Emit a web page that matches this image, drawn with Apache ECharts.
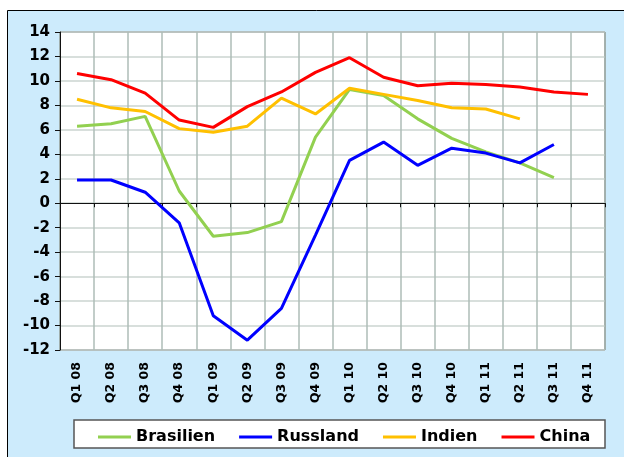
<!DOCTYPE html>
<html>
<head>
<meta charset="utf-8">
<script src="https://cdn.jsdelivr.net/npm/echarts@6/dist/echarts.min.js"></script>
<style>
  html, body { margin: 0; padding: 0; background: #fff; }
  #main { width: 624px; height: 457px; }
</style>
</head>
<body>
<div id="main"></div>
<script>
var quarters = ['Q1 08', 'Q2 08', 'Q3 08', 'Q4 08', 'Q1 09', 'Q2 09', 'Q3 09', 'Q4 09',
  'Q1 10', 'Q2 10', 'Q3 10', 'Q4 10', 'Q1 11', 'Q2 11', 'Q3 11', 'Q4 11'];

var brasilien = [6.3, 6.5, 7.1, 1.0, -2.7, -2.4, -1.5, 5.4, 9.3, 8.8, 6.9, 5.3, 4.2, 3.3, 2.1, null];
var russland = [1.9, 1.9, 0.9, -1.6, -9.2, -11.2, -8.6, -2.6, 3.5, 5.0, 3.1, 4.5, 4.1, 3.3, 4.8, null];
var indien = [8.5, 7.8, 7.5, 6.1, 5.8, 6.3, 8.6, 7.3, 9.4, 8.9, 8.4, 7.8, 7.7, 6.9, null, null];
var china = [10.6, 10.1, 9.0, 6.8, 6.2, 7.9, 9.1, 10.7, 11.9, 10.3, 9.6, 9.8, 9.7, 9.5, 9.1, 8.9];

var yMin = -12, yMax = 14, yStep = 2;

var chart = echarts.init(document.getElementById('main'));

function line(name, data, color) {
  return {
    name: name,
    type: 'line',
    data: data,
    xAxisIndex: 0,
    symbol: 'none',
    lineStyle: { width: 3, color: color },
    itemStyle: { color: color }
  };
}

var option = {
  backgroundColor: '#fff',
  animation: false,
  graphic: [
    {
      type: 'rect', z: -10, silent: true,
      shape: { x: 7.5, y: 10.5, width: 700, height: 500 },
      style: { fill: '#CDEBFC', stroke: '#000', lineWidth: 1 }
    },
    {
      type: 'rect', z: -5, silent: true,
      shape: { x: 74, y: 420, width: 531, height: 28 },
      style: { fill: '#fff', stroke: '#555', lineWidth: 1.5 }
    }
  ],
  grid: {
    left: 60, top: 32, right: 19, bottom: 107,
    show: true, backgroundColor: '#fff', borderColor: '#222', borderWidth: 1
  },
  legend: {
    left: 93, top: 424,
    icon: 'rect', itemWidth: 33, itemHeight: 3, itemGap: 24,
    textStyle: { fontFamily: 'DejaVu Sans', fontWeight: 'bold', fontSize: 16, color: '#000' },
    data: ['Brasilien', 'Russland', 'Indien', 'China']
  },
  xAxis: [
    {
      type: 'category', data: quarters, boundaryGap: true,
      axisLine: { onZero: true, lineStyle: { color: '#111', width: 1 } },
      axisTick: { show: true, length: 4, interval: 0, lineStyle: { color: '#111' } },
      axisLabel: { show: false, interval: 0 },
      splitLine: { show: true, interval: 0, lineStyle: { color: '#AEBDB7', width: 1.5 } }
    },
    {
      type: 'category', data: quarters, position: 'bottom', boundaryGap: true,
      axisLine: { show: false }, axisTick: { show: false },
      axisLabel: {
        rotate: 90, margin: 12, interval: 0,
        fontFamily: 'DejaVu Sans', fontWeight: 'bold', fontSize: 12.5, color: '#000'
      },
      splitLine: { show: false }
    }
  ],
  yAxis: {
    type: 'value', min: yMin, max: yMax, interval: yStep,
    axisLine: { show: true, onZero: false, lineStyle: { color: '#111' } },
    axisTick: { show: true, length: 5, lineStyle: { color: '#111' } },
    axisLabel: {
      margin: 10,
      fontFamily: 'DejaVu Sans', fontWeight: 'bold', fontSize: 15, color: '#000'
    },
    splitLine: { show: true, lineStyle: { color: '#CBD5D1', width: 1.5 } }
  },
  series: [
    line('Brasilien', brasilien, '#92D050'),
    line('Russland', russland, '#0000FF'),
    line('Indien', indien, '#FFC000'),
    line('China', china, '#FF0000')
  ]
};

chart.setOption(option);
</script>
</body>
</html>
